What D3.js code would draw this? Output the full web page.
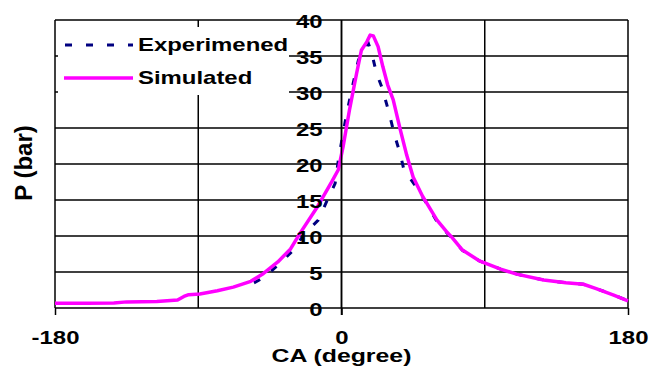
<!DOCTYPE html>
<html>
<head>
<meta charset="utf-8">
<script src="https://cdn.jsdelivr.net/npm/d3@7"></script>
<style>
  html, body { margin: 0; padding: 0; background: #fff; }
  svg { display: block; }
  text { font-family: "Liberation Sans", Arial, sans-serif; font-weight: bold; fill: #000; }
</style>
</head>
<body>
<svg id="chart" width="650" height="367"></svg>
<script>
// Crank angle (degree) and cylinder pressure (bar)
const simCA = [-180,-160,-143,-135,-116,-103,-99,-96,-89,-78,-68,-57,-49,-40,-32,-26,-15,-6,-2,1,5,9.5,12.5,16,18,20,23,26,29,32.5,37,41,45,51,60,66,69,76,87,100,110,127,141,152,160,171,180];
const simP  = [0.65,0.65,0.7,0.85,0.9,1.1,1.6,1.85,1.95,2.4,2.9,3.7,4.8,6.4,8.2,10.4,14.1,17.6,19.2,22.4,27.5,32.6,35.8,37,37.9,37.8,36.3,33.5,31,28.9,24.7,21.2,18.2,15.5,12.2,10.6,9.9,8.05,6.5,5.4,4.7,3.9,3.5,3.3,2.7,1.8,1.0];

const expCA = [-55,-49,-38.6,-30,-23,-14.6,-9.3,-4,-2,1,3.3,6.4,10.6,14.8,16.8,19,22,25.3,29.4,33.6,36.8,39,41.5,47,53.5,60,66,69,76,87,100,110,127,141,152,160,171,180];
const expP  = [3.5,4.2,6.2,8.1,10.4,12.2,14.8,17.3,20.5,24.3,27,30.3,34.4,36.3,36.8,35.4,32.6,30.7,27.5,23.8,21.5,19.4,18.5,16.8,14.5,12.0,10.5,9.8,8.0,6.5,5.4,4.7,3.9,3.5,3.3,2.7,1.8,1.0];

const xTicks = [-180, 0, 180];
const xGrid = [-180, -90, 0, 90, 180];
const yTicks = [0, 5, 10, 15, 20, 25, 30, 35, 40];

const seriesNames = ["Experimened", "Simulated"];
const xTitle = "CA (degree)";
const yTitle = "P (bar)";

const svg = d3.select("#chart");
const plotL = 55, plotR = 628, plotT = 20, plotB = 308;
const stretch = 1.33;

const x = d3.scaleLinear().domain([-180, 180]).range([plotL, plotR]);
const y = d3.scaleLinear().domain([0, 40]).range([plotB, plotT]);

// horizontal grid
svg.append("g").selectAll("line").data(yTicks).join("line")
  .attr("x1", plotL).attr("x2", plotR)
  .attr("y1", d => y(d)).attr("y2", d => y(d))
  .attr("stroke", "#000").attr("stroke-width", 1.5);

// vertical grid / frame
svg.append("g").selectAll("line").data(xGrid).join("line")
  .attr("x1", d => x(d)).attr("x2", d => x(d))
  .attr("y1", plotT).attr("y2", plotB)
  .attr("stroke", "#000").attr("stroke-width", 1.5);

// x axis ticks + labels
const xAxis = svg.append("g").attr("transform", `translate(0,${plotB})`)
  .call(d3.axisBottom(x).tickValues(xTicks).tickSizeInner(7).tickSizeOuter(0).tickPadding(16).tickFormat(d => String(d)));
xAxis.select(".domain").remove();
xAxis.attr("font-family", null).attr("font-size", null);
xAxis.selectAll(".tick line").attr("stroke", "#000").attr("stroke-width", 1.5);
xAxis.selectAll(".tick text")
  .attr("font-size", 18)
  .each(function() {
    const t = d3.select(this);
    const yy = +t.attr("y");
    t.attr("y", null).attr("transform", `translate(0,${yy}) scale(${stretch},1)`);
  });

// series lines
const line = d3.line().x(d => x(d[0])).y(d => y(d[1])).curve(d3.curveLinear);
const expData = expCA.map((c, i) => [c, expP[i]]);
const simData = simCA.map((c, i) => [c, simP[i]]);

svg.append("path").datum(expData).attr("d", line)
  .attr("fill", "none").attr("stroke", "#000080").attr("stroke-width", 3)
  .attr("stroke-dasharray", "7,14");
svg.append("path").datum(simData).attr("d", line)
  .attr("fill", "none").attr("stroke", "#ff00ff").attr("stroke-width", 3.5)
  .attr("stroke-linejoin", "round");

// y axis at CA = 0
const yAxis = svg.append("g").attr("transform", `translate(${x(0)},0)`)
  .call(d3.axisLeft(y).tickValues(yTicks).tickSize(0).tickPadding(0));
yAxis.select(".domain").remove();
yAxis.attr("font-family", null).attr("font-size", null);
yAxis.selectAll(".tick text")
  .attr("font-size", 18).attr("x", null).attr("dy", "0.36em")
  .attr("transform", `translate(-19,1) scale(${stretch},1)`);
svg.append("line")
  .attr("x1", x(0)).attr("x2", x(0)).attr("y1", plotT).attr("y2", plotB + 7)
  .attr("stroke", "#000").attr("stroke-width", 1.5);

// legend
const lg = svg.append("g");
lg.append("rect").attr("x", 58).attr("y", 27).attr("width", 231).attr("height", 68).attr("fill", "#fff");
lg.append("line").attr("x1", 65).attr("x2", 133).attr("y1", 45).attr("y2", 45)
  .attr("stroke", "#000080").attr("stroke-width", 3).attr("stroke-dasharray", "7,14");
lg.append("line").attr("x1", 64).attr("x2", 133).attr("y1", 78).attr("y2", 78)
  .attr("stroke", "#ff00ff").attr("stroke-width", 3.5);
lg.selectAll("text").data(seriesNames).join("text")
  .attr("transform", (d, i) => `translate(138,${i ? 84 : 51}) scale(${stretch},1)`)
  .attr("font-size", 18).text(d => d);

// axis titles
svg.append("text").attr("transform", `translate(${x(0)},362) scale(1.38,1)`)
  .attr("text-anchor", "middle").attr("font-size", 18).text(xTitle);
svg.append("text").attr("transform", "translate(32,163) rotate(-90)")
  .attr("text-anchor", "middle").attr("font-size", 24).text(yTitle);
</script>
</body>
</html>
